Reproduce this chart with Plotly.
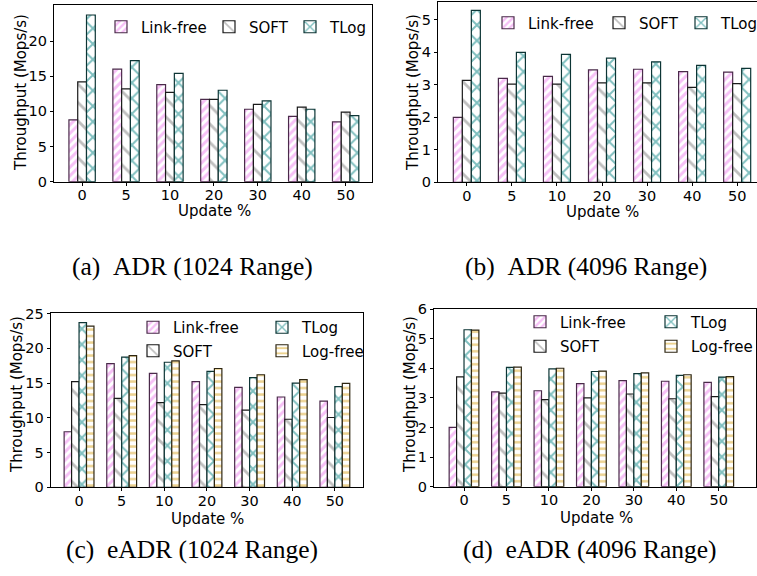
import plotly.graph_objects as go

W, H = 757, 576

# Update ratio (%) on the x axis
updates = ["0", "5", "10", "20", "30", "40", "50"]

# (a) ADR, 1024 key range -- throughput in Mops/s
adr1024_linkfree = [8.8, 16.0, 13.8, 11.7, 10.3, 9.3, 8.5]
adr1024_soft = [14.2, 13.2, 12.7, 11.7, 11.0, 10.6, 9.9]
adr1024_tlog = [23.7, 17.2, 15.4, 13.0, 11.5, 10.3, 9.4]

# (b) ADR, 4096 key range
adr4096_linkfree = [2.0, 3.2, 3.26, 3.46, 3.48, 3.41, 3.39]
adr4096_soft = [3.14, 3.02, 3.02, 3.06, 3.06, 2.92, 3.04]
adr4096_tlog = [5.29, 4.0, 3.94, 3.82, 3.71, 3.60, 3.51]

# (c) eADR, 1024 key range
eadr1024_linkfree = [8.0, 17.8, 16.4, 15.2, 14.4, 13.0, 12.4]
eadr1024_soft = [15.2, 12.8, 12.2, 11.9, 11.1, 9.8, 10.05]
eadr1024_tlog = [23.7, 18.75, 18.0, 16.7, 15.8, 15.0, 14.5]
eadr1024_logfree = [23.2, 18.95, 18.2, 17.1, 16.2, 15.5, 14.95]

# (d) eADR, 4096 key range
eadr4096_linkfree = [2.0, 3.2, 3.24, 3.48, 3.58, 3.56, 3.52]
eadr4096_soft = [3.71, 3.16, 2.94, 3.0, 3.13, 2.97, 3.04]
eadr4096_tlog = [5.3, 4.03, 3.98, 3.89, 3.82, 3.76, 3.7]
eadr4096_logfree = [5.29, 4.04, 4.0, 3.9, 3.84, 3.78, 3.72]

captions = ["(a)\u00a0\u00a0ADR (1024 Range)", "(b)\u00a0\u00a0ADR (4096 Range)",
            "(c)\u00a0\u00a0eADR (1024 Range)", "(d)\u00a0\u00a0eADR (4096 Range)"]

STYLE = {
    "Link-free": dict(shape="/", fg="#EE82EE", edge="#4a2a4a", size=6, sol=0.5),
    "SOFT": dict(shape="\\", fg="#808080", edge="#1a1a1a", size=13, sol=0.22),
    "TLog": dict(shape="x", fg="#008080", edge="#0d3535", size=11, sol=0.32),
    "Log-free": dict(shape="-", fg="#DAA520", edge="#2e2612", size=6.5, sol=0.38),
}

SANS = "DejaVu Sans"
FS = 15

fig = go.Figure()


def px_x(v):
    return v / W


def px_y(v):
    return 1 - v / H


def pattern(st):
    return dict(shape=st["shape"], fgcolor=st["fg"], bgcolor="white",
                size=st["size"], solidity=st["sol"], fillmode="overlay")


def add_group(series, xa, ya, legends, legendwidths):
    n = len(series)
    bw = 0.6 / n if n == 3 else 0.7 / n
    start = -bw * n / 2
    for i, (name, vals) in enumerate(series):
        st = STYLE[name]
        fig.add_trace(go.Bar(
            x=updates, y=vals, name=name,
            width=bw, offset=start + i * bw,
            xaxis=xa, yaxis=ya, legend=legends[name],
            legendwidth=legendwidths[name],
            marker=dict(color="white",
                        line=dict(color=st["edge"], width=1.2),
                        pattern=pattern(st)),
        ))


add_group([("Link-free", adr1024_linkfree), ("SOFT", adr1024_soft),
           ("TLog", adr1024_tlog)], "x", "y",
          {"Link-free": "legend", "SOFT": "legend", "TLog": "legend"},
          {"Link-free": 63, "SOFT": 36, "TLog": 36})
add_group([("Link-free", adr4096_linkfree), ("SOFT", adr4096_soft),
           ("TLog", adr4096_tlog)], "x2", "y2",
          {"Link-free": "legend2", "SOFT": "legend2", "TLog": "legend2"},
          {"Link-free": 66, "SOFT": 37, "TLog": 31})
add_group([("Link-free", eadr1024_linkfree), ("SOFT", eadr1024_soft),
           ("TLog", eadr1024_tlog), ("Log-free", eadr1024_logfree)], "x3", "y3",
          {"Link-free": "legend3", "TLog": "legend3",
           "SOFT": "legend4", "Log-free": "legend4"},
          {"Link-free": 84, "TLog": 40, "SOFT": 84, "Log-free": 66})
add_group([("Link-free", eadr4096_linkfree), ("SOFT", eadr4096_soft),
           ("TLog", eadr4096_tlog), ("Log-free", eadr4096_logfree)], "x4", "y4",
          {"Link-free": "legend5", "TLog": "legend5",
           "SOFT": "legend6", "Log-free": "legend6"},
          {"Link-free": 86, "TLog": 40, "SOFT": 86, "Log-free": 66})

# panel boxes in pixels: left, right, top, bottom, x range, y range, y ticks
panels = [
    (54, 372, 5, 181.7, [-0.64, 6.6], [0, 25.12], [0, 5, 10, 15, 20], True),
    (438, 757, 1.7, 182.3, [-0.64, 6.44], [0, 5.56], [0, 1, 2, 3, 4, 5], False),
    (50.7, 363, 313.3, 487.3, [-0.665, 6.66], [0, 25.05], [0, 5, 10, 15, 20, 25], True),
    (434, 755.7, 309, 486.7, [-0.707, 6.87], [0, 6], [0, 1, 2, 3, 4, 5, 6], True),
]

axis_common = dict(showline=True, linecolor="black", linewidth=1.1,
                   ticks="outside", ticklen=3, tickwidth=1, tickcolor="black",
                   showgrid=False, zeroline=False,
                   tickfont=dict(family=SANS, size=14.5, color="black"))

layout = {}
for i, (l, r, t, b, xr, yr, yt, right_spine) in enumerate(panels):
    sfx = "" if i == 0 else str(i + 1)
    layout["xaxis" + sfx] = dict(
        axis_common, domain=[px_x(l), min(1.0, px_x(r))], range=xr,
        type="category", mirror=True, anchor="y" + sfx, ticklabelstandoff=-3)
    layout["yaxis" + sfx] = dict(
        axis_common, domain=[px_y(b), px_y(t)], range=yr,
        tickvals=yt, mirror=right_spine, anchor="x" + sfx)

leg_common = dict(orientation="h", xanchor="left", yanchor="middle",
                  bgcolor="rgba(0,0,0,0)", borderwidth=0,
                  font=dict(family=SANS, size=FS, color="black"),
                  tracegroupgap=0, entrywidthmode="pixels")
layout["legend"] = dict(leg_common, x=px_x(101), y=px_y(27))
layout["legend2"] = dict(leg_common, x=px_x(488), y=px_y(23))
layout["legend3"] = dict(leg_common, x=px_x(133), y=px_y(327.5))
layout["legend4"] = dict(leg_common, x=px_x(133), y=px_y(351))
layout["legend5"] = dict(leg_common, x=px_x(520), y=px_y(322))
layout["legend6"] = dict(leg_common, x=px_x(520), y=px_y(346.5))

annotations = []
# axis titles
for cx, cy in [(214, 211), (602, 212), (207, 519), (596, 518)]:
    annotations.append(dict(text="Update %", x=px_x(cx), y=px_y(cy),
                            xref="paper", yref="paper", showarrow=False,
                            xanchor="center", yanchor="middle",
                            font=dict(family=SANS, size=FS, color="black")))
for cx, cy in [(21, 93), (413, 93), (17, 395), (410, 394)]:
    annotations.append(dict(text="Throughput (Mops/s)", x=px_x(cx), y=px_y(cy),
                            xref="paper", yref="paper", showarrow=False,
                            textangle=-90, xanchor="center", yanchor="middle",
                            font=dict(family=SANS, size=FS, color="black")))
# panel captions
for cap, (cx, cy) in zip(captions, [(192, 266), (586, 266), (192, 549), (590, 549)]):
    annotations.append(dict(text=cap, x=px_x(cx), y=px_y(cy),
                            xref="paper", yref="paper", showarrow=False,
                            xanchor="center", yanchor="middle",
                            font=dict(family="Liberation Serif", size=25.5, color="black")))

fig.update_layout(
    width=W, height=H,
    margin=dict(l=0, r=0, t=0, b=0, autoexpand=False),
    paper_bgcolor="white", plot_bgcolor="white",
    barmode="overlay",
    annotations=annotations,
    **layout,
)

fig.write_html("out.html")
